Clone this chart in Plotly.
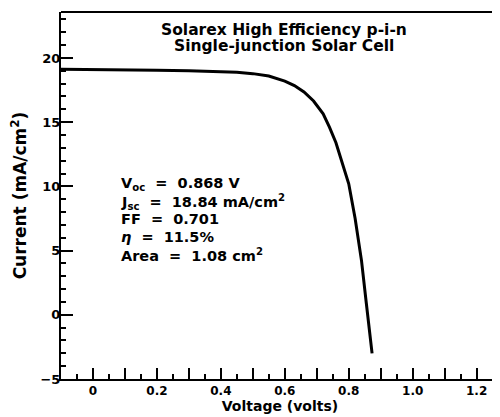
import plotly.graph_objects as go

voltage = [-0.1, 0.0, 0.1, 0.2, 0.3, 0.4, 0.45, 0.5, 0.55, 0.6, 0.63, 0.66, 0.69, 0.72,
           0.74, 0.76, 0.78, 0.80, 0.82, 0.84, 0.855, 0.866, 0.873]
current = [19.13, 19.12, 19.1, 19.05, 19.0, 18.93, 18.88, 18.78, 18.6, 18.2, 17.85, 17.35,
           16.65, 15.65, 14.6, 13.4, 11.8, 10.2, 7.5, 4.2, 0.9, -1.3, -3.0]

x_tickvals = [0.0, 0.1, 0.2, 0.3, 0.4, 0.5, 0.6, 0.7, 0.8, 0.9, 1.0, 1.1, 1.2]
x_ticktext = ["0", "", "0.2", "", "0.4", "", "0.6", "", "0.8", "", "1.0", "", "1.2"]
y_tickvals = [-5, 0, 5, 10, 15, 20]

title_lines = ["Solarex High Efficiency p-i-n", "Single-junction Solar Cell"]
param_lines = ["V<sub>oc</sub>  =  0.868 V",
               "J<sub>sc</sub>  =  18.84 mA/cm<sup>2</sup>",
               "FF  =  0.701",
               "<i>η</i>  =  11.5%",
               "Area  =  1.08 cm<sup>2</sup>"]

FONT = "DejaVu Sans, sans-serif"

fig = go.Figure()
fig.add_trace(go.Scatter(x=voltage, y=current, mode="lines",
                         line=dict(color="black", width=3),
                         showlegend=False, hoverinfo="skip"))

# the page body adds an 8px offset, so the figure is 8px smaller than the window
fig.update_layout(
    width=492, height=409,
    margin=dict(l=53, r=1, t=4, b=38),
    paper_bgcolor="white", plot_bgcolor="white",
    font=dict(family=FONT, color="black", size=12),
    xaxis=dict(range=[-0.1, 1.27], tickmode="array", tickvals=x_tickvals, ticktext=x_ticktext,
               ticks="inside", ticklen=11, tickwidth=2, tickcolor="black",
               minor=dict(dtick=0.05, tick0=0, ticks="inside", ticklen=5, tickwidth=1.5,
                          tickcolor="black"),
               showline=True, linecolor="black", linewidth=2, mirror=False,
               showgrid=False, zeroline=False, automargin=False,
               tickfont=dict(family=FONT, size=12, color="black", weight="bold"),
               title=dict(text="<b>Voltage (volts)</b>", standoff=4,
                          font=dict(family=FONT, size=14, color="black"))),
    yaxis=dict(range=[-5, 23.58], tickmode="array", tickvals=y_tickvals,
               ticks="inside", ticklen=12, tickwidth=2, tickcolor="black",
               minor=dict(dtick=1, tick0=0, ticks="inside", ticklen=5, tickwidth=1.5,
                          tickcolor="black"),
               showline=True, linecolor="black", linewidth=2,
               showgrid=False, zeroline=False, automargin=False,
               ticklabelstandoff=-4,
               tickfont=dict(family=FONT, size=13, color="black", weight="bold"),
               title=dict(text="<b>Current (mA/cm<sup>2</sup>)</b>", standoff=12,
                          font=dict(family=FONT, size=17, color="black"))),
)

# top border and partial right border
fig.add_shape(type="line", xref="paper", yref="paper", x0=0, x1=1, y0=1, y1=1,
              line=dict(color="black", width=2))
fig.add_shape(type="line", xref="paper", yref="y", x0=0.998, x1=0.998, y0=13.5, y1=23.58,
              line=dict(color="black", width=1.5))

title_y = [22.2, 20.9]
for line, yv in zip(title_lines, title_y):
    fig.add_annotation(xref="paper", yref="y", x=0.509, y=yv,
                       text="<b>" + line + "</b>",
                       showarrow=False, align="center", xanchor="center", yanchor="middle",
                       font=dict(family=FONT, size=15.5, color="black"))

param_y0 = 10.19
param_step = 1.38
for i, line in enumerate(param_lines):
    fig.add_annotation(xref="x", yref="y", x=0.082, y=param_y0 - i * param_step,
                       text="<b>" + line + "</b>",
                       showarrow=False, align="left", xanchor="left", yanchor="middle",
                       font=dict(family=FONT, size=14.5, color="black"))

fig.write_html("out.html")
